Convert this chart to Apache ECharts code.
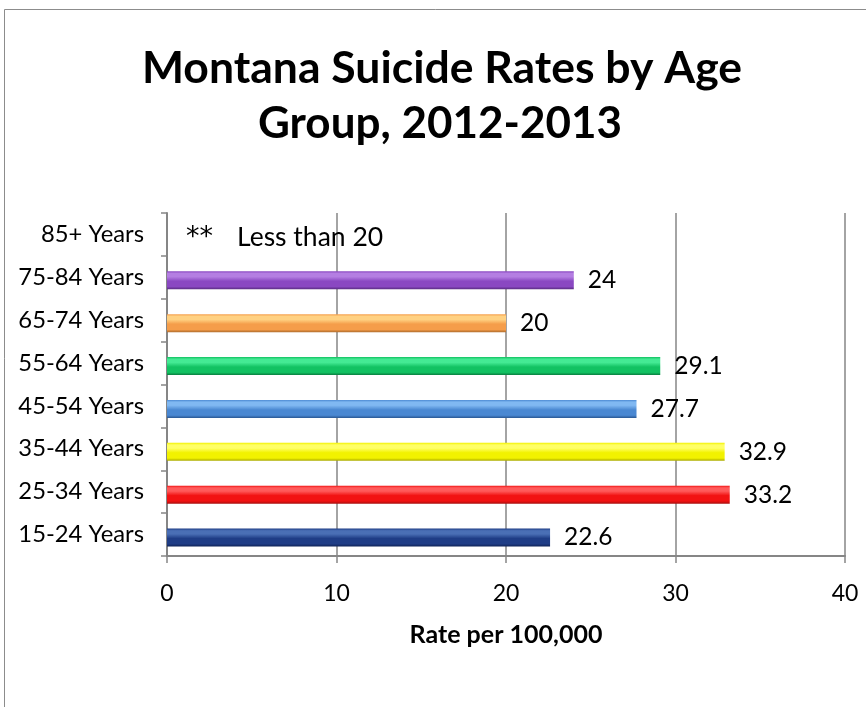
<!DOCTYPE html>
<html>
<head>
<meta charset="utf-8">
<script src="https://cdn.jsdelivr.net/npm/echarts@6/dist/echarts.min.js"></script>
<style>html,body{margin:0;padding:0;background:#fff}#c{width:866px;height:707px}</style>
</head>
<body>
<div id="c"></div>
<script>
const categories = ['15-24 Years','25-34 Years','35-44 Years','45-54 Years','55-64 Years','65-74 Years','75-84 Years','85+ Years'];
const rates = [22.6, 33.2, 32.9, 27.7, 29.1, 20, 24, 0];
const notes = ['', '', '', '', '', '', '', '{a|**}{b|Less than 20}'];
const xTicks = [0, 10, 20, 30, 40];
const titleLines = ['Montana Suicide Rates by Age', 'Group, 2012-2013'];
const axisTitle = 'Rate per 100,000';
const palette = [
  ['#4a6fb5','#1f3d86','#0f2356'],
  ['#ff5a5a','#f21212','#a80f0f'],
  ['#ffff66','#f2f200','#a8a800'],
  ['#80b8f2','#4a88d2','#2a5894'],
  ['#44ea94','#12c262','#0a7c3e'],
  ['#ffd182','#f59d4a','#b06c2c'],
  ['#b47ee2','#8a48c2','#572b80'],
  ['#cccccc','#999999','#666666']
];
const FONT = 'Lato';
function grad(c){
  return new echarts.graphic.LinearGradient(0,0,0,1,[
    {offset:0,color:c[1]},{offset:0.12,color:c[0]},{offset:0.3,color:c[0]},
    {offset:0.55,color:c[1]},{offset:0.85,color:c[1]},{offset:1,color:c[2]}
  ]);
}
const chart = echarts.init(document.getElementById('c'), null, {renderer:'canvas'});
const gridBase = {left:167, right:21, top:213, height:343};
chart.setOption({
  animation:false,
  backgroundColor:'#fff',
  graphic:[
    {type:'rect',shape:{x:4.5,y:9.5,width:1000,height:1000},style:{fill:null,stroke:'#8c8c8c',lineWidth:1},silent:true},
    {type:'text',x:442,y:69,style:{text:titleLines[0],fontFamily:FONT,fontWeight:'bold',fontSize:44.5,fill:'#000',textAlign:'center',textVerticalAlign:'middle'}},
    {type:'text',x:440,y:124,style:{text:titleLines[1],fontFamily:FONT,fontWeight:'bold',fontSize:44,fill:'#000',textAlign:'center',textVerticalAlign:'middle'}},
    {type:'text',x:506,y:635,style:{text:axisTitle,fontFamily:FONT,fontWeight:'bold',fontSize:25,fill:'#000',textAlign:'center',textVerticalAlign:'middle'}}
  ],
  grid:[
    Object.assign({}, gridBase),
    Object.assign({}, gridBase, {top:216})
  ],
  xAxis:[{
    gridIndex:0,type:'value',min:xTicks[0],max:xTicks[xTicks.length-1],interval:10,
    axisLine:{show:true,lineStyle:{color:'#868686',width:2}},
    axisTick:{show:true,length:7,lineStyle:{color:'#868686',width:1.5}},
    axisLabel:{fontFamily:FONT,fontSize:23,color:'#000',margin:26},
    splitLine:{show:true,lineStyle:{color:'#868686',width:1.5}}
  },{
    gridIndex:1,type:'value',min:0,max:40,show:false
  }],
  yAxis:[{
    gridIndex:0,type:'category',data:categories,
    axisLine:{show:true,lineStyle:{color:'#868686',width:2}},
    axisTick:{show:true,length:6,lineStyle:{color:'#868686',width:1.5}},
    axisLabel:{fontFamily:FONT,fontSize:23.8,color:'#000',margin:23},
    splitLine:{show:false}
  },{
    gridIndex:1,type:'category',data:categories,show:false
  }],
  series:[{
    type:'bar',xAxisIndex:1,yAxisIndex:1,barWidth:18,
    data:rates.map((v,i)=>({
      value:v,
      itemStyle:{color:grad(palette[i])},
      label:{formatter: notes[i] ? notes[i] : String(v), distance: notes[i] ? 19 : 14}
    })),
    label:{show:true,position:'right',fontFamily:FONT,fontSize:24.5,color:'#000',
      rich:{
        a:{fontFamily:'DejaVu Sans',fontSize:27,width:51,color:'#000',padding:[2,0,0,0]},
        b:{fontFamily:FONT,fontSize:26.5,color:'#000'}
      }}
  }]
});
</script>
</body>
</html>
